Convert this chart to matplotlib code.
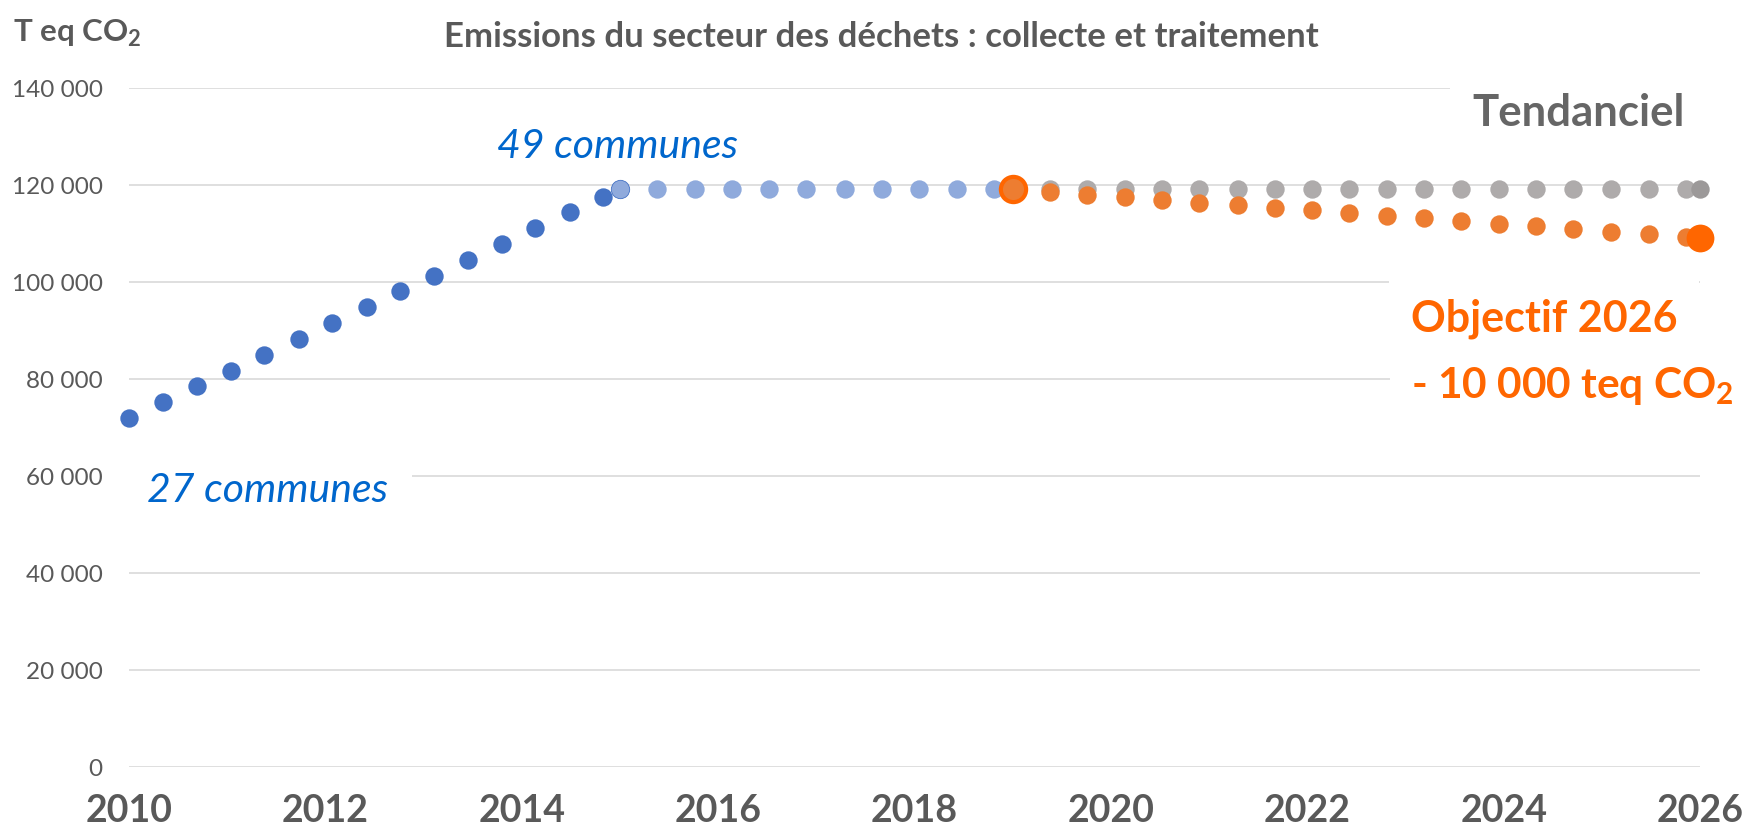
import matplotlib.pyplot as plt
from matplotlib.ticker import FuncFormatter

plt.rcParams['font.family'] = ['Lato', 'DejaVu Sans']
plt.rcParams['mathtext.fontset'] = 'custom'
plt.rcParams['mathtext.rm'] = 'Lato:bold'
plt.rcParams['mathtext.bf'] = 'Lato:bold'

# --- data (T eq CO2) ---
hist_x = [2010.00, 2010.35, 2010.69, 2011.04, 2011.38, 2011.73, 2012.07, 2012.42,
          2012.76, 2013.11, 2013.45, 2013.80, 2014.14, 2014.49, 2014.83]
hist_y = [71800, 75100, 78400, 81600, 84900, 88200, 91400, 94700,
          98000, 101200, 104500, 107800, 111000, 114300, 117500]

flat_x = [2015.00, 2015.38, 2015.76, 2016.14, 2016.52, 2016.90, 2017.29, 2017.67,
          2018.05, 2018.43, 2018.81]
flat_y = [119100] * 11

proj_x = [2019.38, 2019.76, 2020.14, 2020.52, 2020.90, 2021.29, 2021.67, 2022.05, 2022.43,
          2022.81, 2023.19, 2023.57, 2023.95, 2024.33, 2024.71, 2025.09, 2025.48, 2025.86]
trend_y = [119100] * 18
goal_y = [118400, 117900, 117400, 116800, 116300, 115800, 115200, 114700, 114200,
          113600, 113100, 112500, 111900, 111400, 110800, 110300, 109800, 109200]

start_x, start_y = 2019, 119100
end_x, end_trend, end_goal = 2026, 119100, 109100

yticks = [0, 20000, 40000, 60000, 80000, 100000, 120000, 140000]
xticks = [2010, 2012, 2014, 2016, 2018, 2020, 2022, 2024, 2026]

W, H = 1742, 828
fig = plt.figure(figsize=(W / 100, H / 100), dpi=100)
ax = fig.add_axes([129 / W, 1 - 767.7 / H, (1700 - 129) / W, (767.7 - 88.7) / H])

dark = '#4472C4'
light = '#8FAADC'
grey = '#AEABAB'
orange = '#ED7D31'
bright = '#FF6600'
txt = '#595959'
s = 175

ax.scatter(hist_x, hist_y, s=s, color=dark, zorder=3, linewidths=0, clip_on=False)
ax.scatter(flat_x[1:], flat_y[1:], s=s, color=light, zorder=3, linewidths=0)
ax.scatter(flat_x[:1], flat_y[:1], s=s, color=light, edgecolors=dark, linewidths=0.6, zorder=4)
ax.scatter(proj_x, trend_y, s=s, color=grey, zorder=3, linewidths=0)
ax.scatter([end_x], [end_trend], s=s, color='#9C9999', zorder=3, linewidths=0, clip_on=False)
ax.scatter(proj_x, goal_y, s=s, color=orange, zorder=4, linewidths=0)
ax.scatter([start_x], [start_y], s=330, color=orange, edgecolors=bright, linewidths=3, zorder=5)
ax.scatter([end_x], [end_goal], s=400, color=bright, zorder=5, linewidths=0, clip_on=False)

ax.set_xlim(2010, 2026)
ax.set_ylim(0, 140000)
ax.set_xticks(xticks)
ax.set_yticks(yticks)
ax.yaxis.set_major_formatter(FuncFormatter(lambda v, p: f"{int(v):,}".replace(",", " ")))
ax.grid(axis='y', color='#D9D9D9', linewidth=1.2, zorder=0)
ax.set_axisbelow(True)
for sp in ax.spines.values():
    sp.set_visible(False)
ax.tick_params(axis='y', length=0, pad=19, labelsize=17.5, labelcolor=txt)
ax.tick_params(axis='x', length=0, pad=19, labelsize=27, labelcolor=txt)
for lab in ax.get_xticklabels():
    lab.set_fontweight('bold')


def px(x, y):
    return x / W, 1 - y / H


fig.text(*px(13, 33), 'T eq CO$_{\\mathbf{2}}$', fontsize=22.5, fontweight='bold',
         color=txt, ha='left', va='center')
fig.text(*px(881, 37), 'Emissions du secteur des déchets : collecte et traitement',
         fontsize=25, fontweight='bold', color=txt, ha='center', va='center')

fig.text(*px(497, 146), '49 communes', fontsize=29.5, style='italic', color='#0066CC',
         ha='left', va='center')
fig.text(*px(388, 491), '27 communes', fontsize=29.5, style='italic', color='#0066CC',
         ha='right', va='center',
         bbox=dict(boxstyle='square,pad=0.58', facecolor='white', edgecolor='none'))

fig.text(*px(1472, 113), 'Tendanciel', fontsize=31.5, fontweight='bold', color='#666666',
         ha='left', va='center',
         bbox=dict(boxstyle='square,pad=0.5', facecolor='white', edgecolor='none'))
fig.text(*px(1411, 319), 'Objectif 2026', fontsize=31, fontweight='bold', color=bright,
         ha='left', va='center',
         bbox=dict(boxstyle='square,pad=0.5', facecolor='white', edgecolor='none'))
fig.text(*px(1411, 386), '- 10 000 teq CO$_{\\mathbf{2}}$', fontsize=30.5, fontweight='bold',
         color=bright, ha='left', va='center',
         bbox=dict(boxstyle='square,pad=0.5', facecolor='white', edgecolor='none'))

fig.savefig('out.png', dpi=100)
